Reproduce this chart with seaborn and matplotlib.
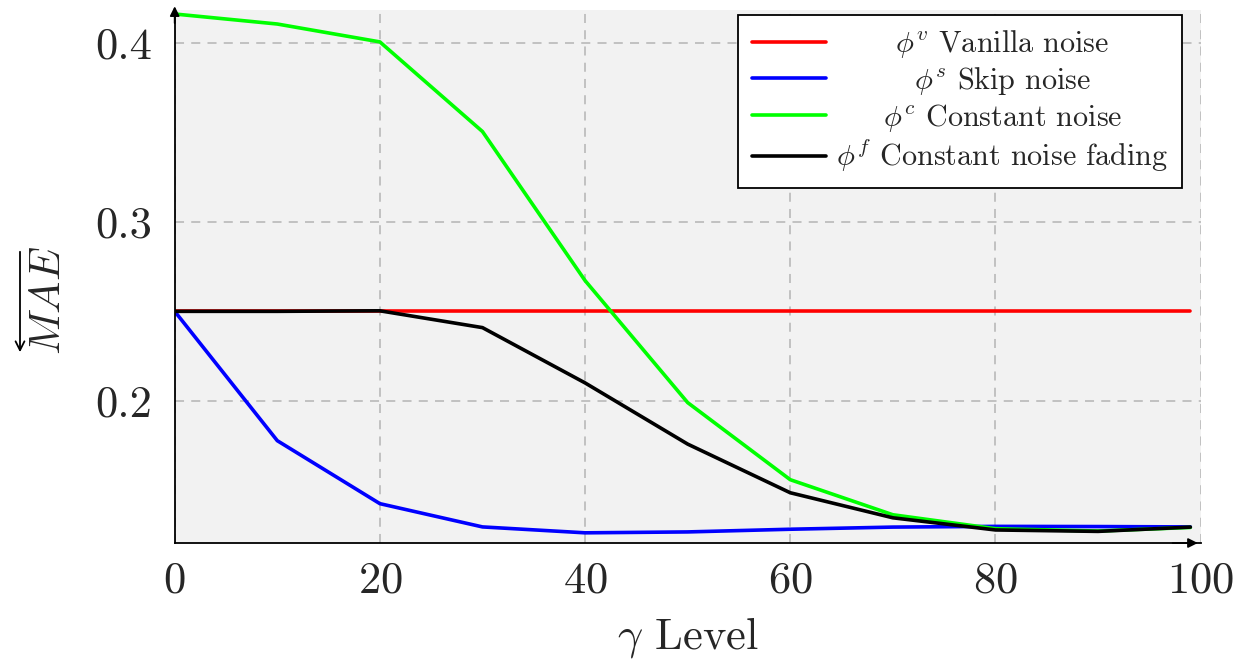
import numpy as np
import pandas as pd
import seaborn as sns
import matplotlib
matplotlib.use("Agg")
import matplotlib.pyplot as plt

gamma = [0, 10, 20, 30, 40, 50, 60, 70, 80, 90, 99]
vanilla = [0.25, 0.25, 0.25, 0.25, 0.25, 0.25, 0.25, 0.25, 0.25, 0.25, 0.25]
skip = [0.25, 0.1777, 0.1425, 0.1295, 0.1262, 0.1267, 0.1282, 0.1294, 0.1298, 0.1297, 0.1295]
constant = [0.4162, 0.4106, 0.4006, 0.3505, 0.2672, 0.1990, 0.1559, 0.1363, 0.1285, 0.1272, 0.1292]
fading = [0.25, 0.25, 0.2503, 0.2409, 0.2100, 0.1758, 0.1486, 0.1346, 0.1278, 0.1270, 0.1294]

labels = [r"$\phi^v$ Vanilla noise", r"$\phi^s$ Skip noise",
          r"$\phi^c$ Constant noise", r"$\phi^f$ Constant noise fading"]
colors = ["#ff0000", "#0000ff", "#00ff00", "#000000"]
series = [vanilla, skip, constant, fading]

df = pd.concat([pd.DataFrame({"gamma": gamma, "mae": s, "series": l})
                for s, l in zip(series, labels)], ignore_index=True)

sns.set_theme(style="white")
plt.rcParams["font.family"] = ["cmr10", "DejaVu Serif"]
plt.rcParams["mathtext.fontset"] = "cm"
plt.rcParams["axes.formatter.use_mathtext"] = True

fig = plt.figure(figsize=(12.39, 6.59), dpi=100)
ax = fig.add_axes([0.141, 0.176, 0.828, 0.809])
ax.set_facecolor("#f2f2f2")

sns.lineplot(data=df, x="gamma", y="mae", hue="series", hue_order=labels,
             palette=dict(zip(labels, colors)), linewidth=2.6, ax=ax,
             estimator=None, sort=False)

ax.set_xlim(0, 100)
ax.set_ylim(0.1205, 0.4185)
ax.set_xticks([0, 20, 40, 60, 80, 100])
ax.set_yticks([0.2, 0.3, 0.4])
ax.set_yticklabels(["0.2", "0.3", "0.4"])
ax.grid(True, color="#bdbdbd", linestyle=(0, (5, 4)), linewidth=1.3)
ax.tick_params(axis="both", labelsize=32, length=7, color="#aaaaaa", width=1.2,
               direction="out")
ax.tick_params(axis="x", pad=6)
ax.tick_params(axis="y", pad=9)

for s in ["top", "right"]:
    ax.spines[s].set_visible(False)
for s in ["left", "bottom"]:
    ax.spines[s].set_color("black")
    ax.spines[s].set_linewidth(1.3)

# axis arrows
ax.annotate("", xy=(1.0, 0), xycoords="axes fraction", xytext=(0.97, 0),
            arrowprops=dict(arrowstyle="-|>", color="black", lw=1.3, mutation_scale=14))
ax.annotate("", xy=(0, 1.012), xycoords="axes fraction", xytext=(0, 0.97),
            arrowprops=dict(arrowstyle="-|>", color="black", lw=1.3, mutation_scale=14))

ax.set_xlabel(r"$\gamma$ Level", fontsize=32, labelpad=10)
ax.set_ylabel(r"$MAE$", fontsize=31)
ax.yaxis.set_label_coords(-0.104, 0.455)
# over-arrow of the y label (points to the left of the rotated text)
fig.add_artist(matplotlib.patches.FancyArrowPatch(
    (20, 659 - 249), (20, 659 - 355), transform=None,
    arrowstyle="->", mutation_scale=16, lw=1.3, color="black"))

leg = ax.legend(loc="upper right", bbox_to_anchor=(0.982, 0.9906), fontsize=21.7,
                frameon=True, fancybox=False, edgecolor="black", framealpha=1,
                handlelength=2.45, handletextpad=0.35, borderpad=0.45,
                labelspacing=0.15, borderaxespad=0)
leg.get_frame().set_linewidth(1.3)
for line in leg.get_lines():
    line.set_linewidth(2.6)

# centre the legend texts like pgfplots does
fig.canvas.draw()
widths = [t.get_window_extent().width for t in leg.get_texts()]
mw = max(widths)
for t, w in zip(leg.get_texts(), widths):
    t.set_x((mw - w) / 2)

fig.savefig("out.png", dpi=100)
